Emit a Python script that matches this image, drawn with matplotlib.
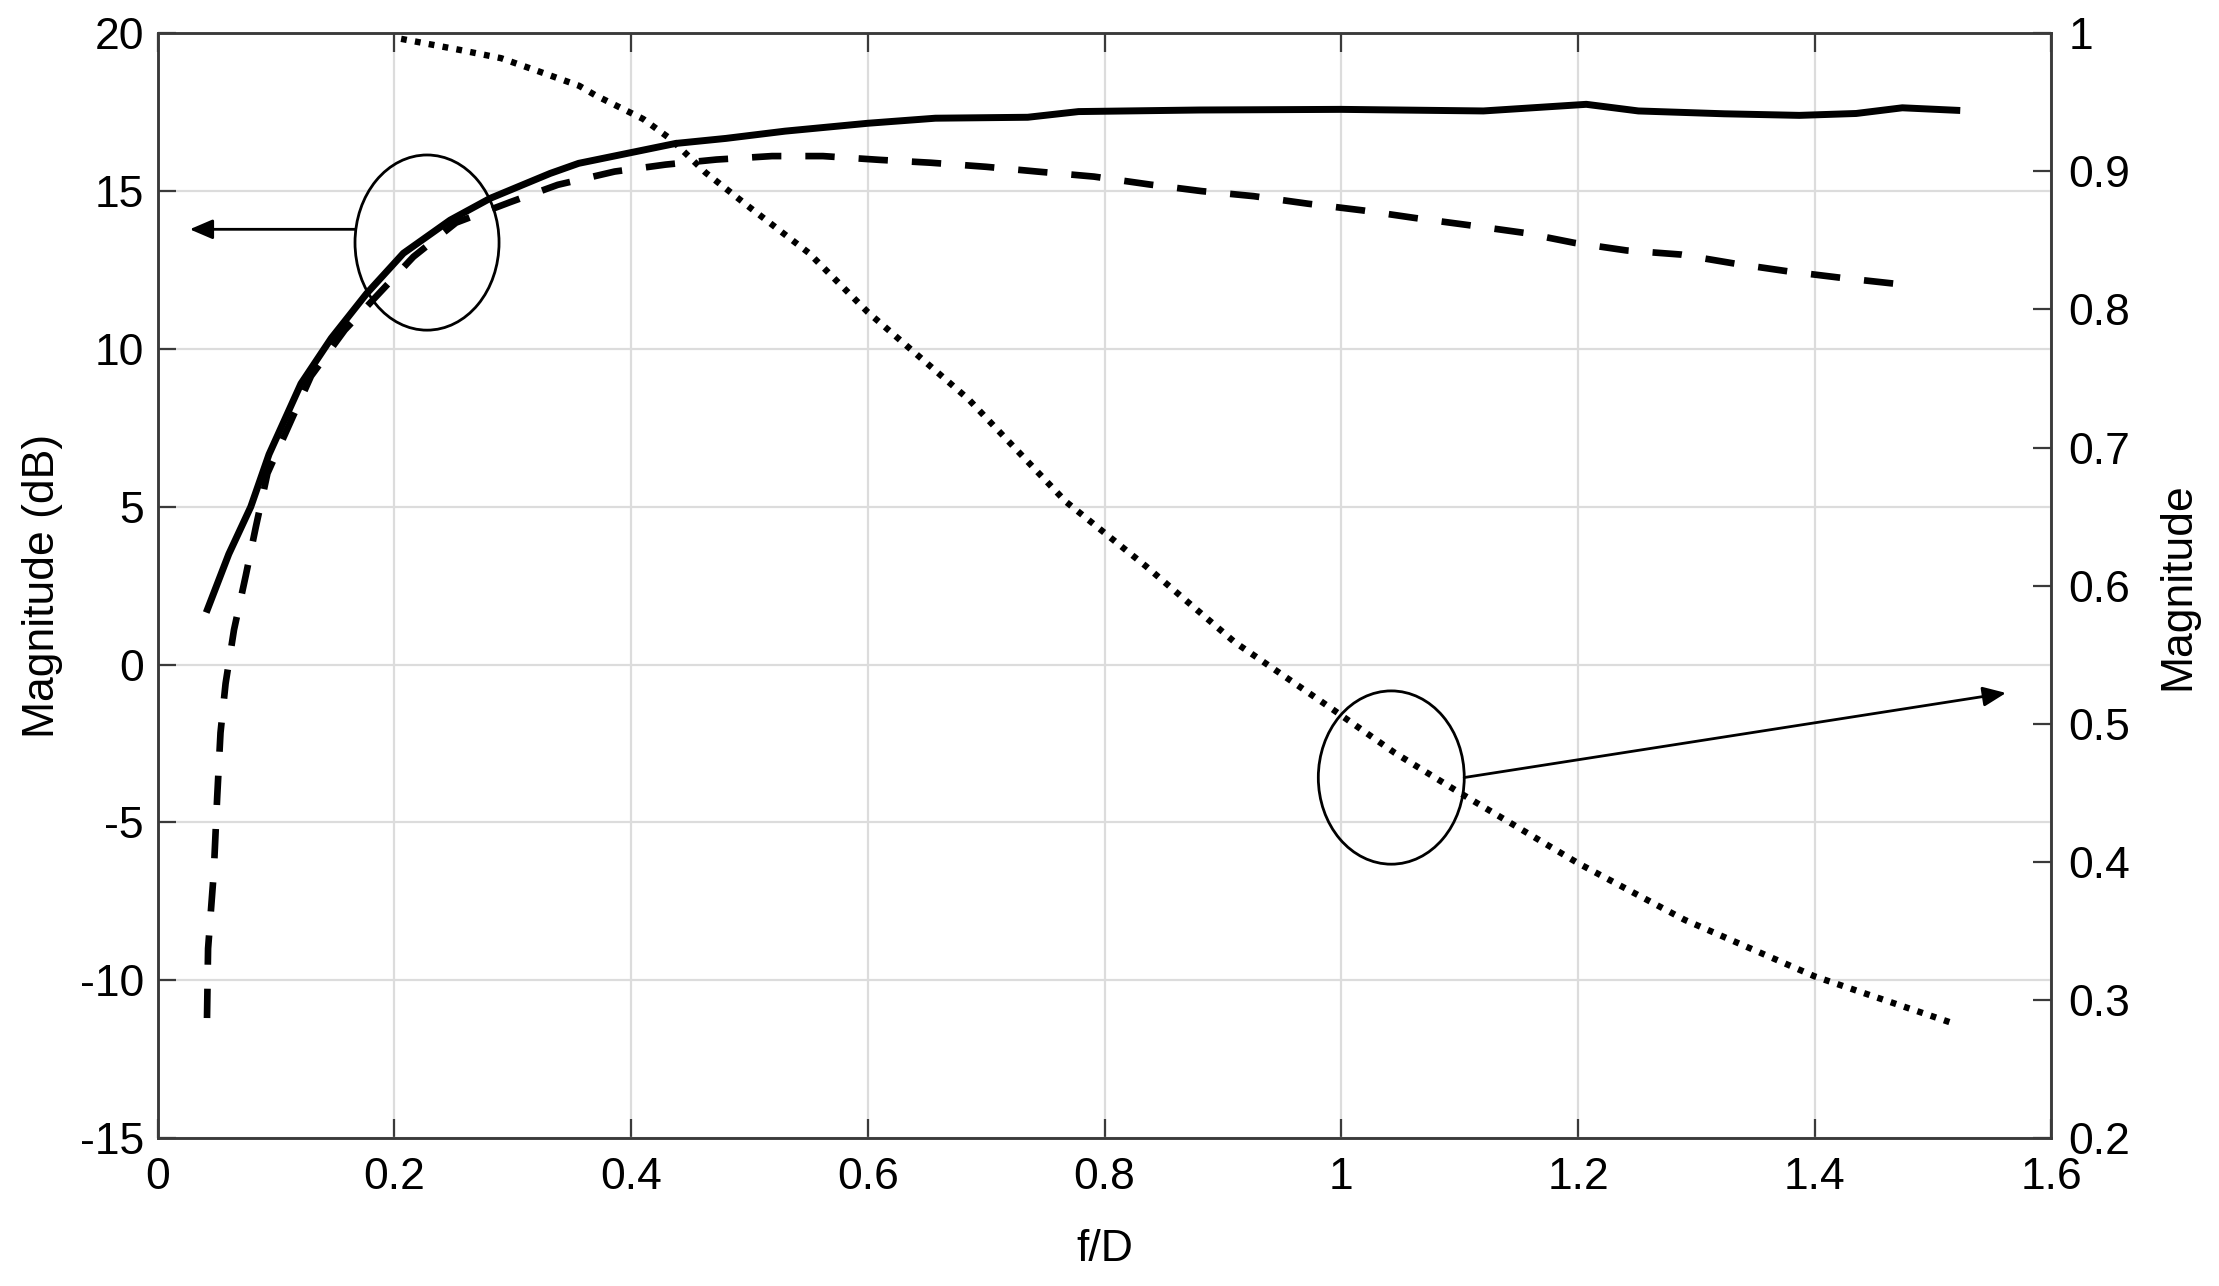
import matplotlib
matplotlib.use("Agg")
import matplotlib.pyplot as plt
from matplotlib.patches import Ellipse

plt.rcParams['font.family'] = ['Liberation Sans', 'DejaVu Sans']

# ---- data ----
solid_x = [0.042, 0.06, 0.0786, 0.094, 0.121, 0.1466, 0.1766, 0.2075, 0.247, 0.2808,
           0.3315, 0.3556, 0.4375, 0.48, 0.53, 0.6, 0.657, 0.735, 0.778, 0.88,
           1.0, 1.12, 1.207, 1.251, 1.3235, 1.387, 1.435, 1.474, 1.52]
solid_db = [1.75, 3.5, 5.0, 6.66, 8.9, 10.34, 11.76, 13.03, 14.08, 14.77,
            15.56, 15.88, 16.51, 16.67, 16.9, 17.15, 17.31, 17.34, 17.52, 17.57,
            17.59, 17.54, 17.75, 17.54, 17.45, 17.40, 17.46, 17.64, 17.56]

dashed_x = [0.0416, 0.0425, 0.0473, 0.0502, 0.053, 0.0573, 0.0644, 0.0743, 0.0828, 0.0927,
            0.1295, 0.158, 0.216, 0.252, 0.2977, 0.338, 0.386, 0.429, 0.472, 0.519,
            0.562, 0.61, 0.653, 0.70, 0.743, 0.791, 0.838, 0.882, 0.926, 0.972,
            1.018, 1.062, 1.108, 1.154, 1.197, 1.241, 1.287, 1.333, 1.377, 1.423, 1.479]
dashed_db = [-11.2, -9.0, -6.6, -4.2, -2.16, -0.6, 1.1, 2.81, 4.35, 6.06,
             9.14, 10.6, 12.92, 14.0, 14.65, 15.2, 15.62, 15.84, 16.0, 16.11,
             16.11, 15.99, 15.9, 15.77, 15.62, 15.46, 15.21, 15.0, 14.84, 14.6,
             14.39, 14.15, 13.92, 13.68, 13.36, 13.12, 12.99, 12.70, 12.46, 12.25, 12.02]

dotted_x = [0.2056, 0.255, 0.29, 0.32, 0.356, 0.37, 0.41, 0.434, 0.463, 0.50,
            0.55, 0.60, 0.685, 0.767, 0.835, 0.91, 0.99, 1.045, 1.10, 1.20,
            1.29, 1.40, 1.517]
dotted_mag = [0.996, 0.988, 0.982, 0.973, 0.962, 0.955, 0.938, 0.923, 0.899, 0.874,
              0.841, 0.798, 0.735, 0.661, 0.614, 0.559, 0.512, 0.479, 0.450, 0.399,
              0.358, 0.317, 0.283]

xticks = [0, 0.2, 0.4, 0.6, 0.8, 1.0, 1.2, 1.4, 1.6]
xticklabels = ['0', '0.2', '0.4', '0.6', '0.8', '1', '1.2', '1.4', '1.6']
yticks_left = [-15, -10, -5, 0, 5, 10, 15, 20]
yticks_right = [0.2, 0.3, 0.4, 0.5, 0.6, 0.7, 0.8, 0.9, 1.0]
yticklabels_right = ['0.2', '0.3', '0.4', '0.5', '0.6', '0.7', '0.8', '0.9', '1']

# ---- figure ----
fig = plt.figure(figsize=(22.19, 12.86), dpi=100)
ax = fig.add_axes([0.0711, 0.1151, 0.9245 - 0.0711, 0.9741 - 0.1151])
ax2 = ax.twinx()

FS = 32
spine_c = '#3a3a3a'

ax.plot(solid_x, solid_db, color='black', lw=5.0, solid_joinstyle='round', zorder=5)
ax.plot(dashed_x, dashed_db, color='black', lw=4.8, linestyle=(0, (4.4, 3.6)),
        dash_capstyle='butt', zorder=5)
ax2.plot(dotted_x, dotted_mag, color='black', lw=4.6, linestyle=(0, (0.9, 1.3)),
         dash_capstyle='butt', zorder=5)

ax.set_xlim(0, 1.6)
ax.set_ylim(-15, 20)
ax2.set_ylim(0.2, 1.0)

ax.set_xticks(xticks)
ax.set_xticklabels(xticklabels)
ax.set_yticks(yticks_left)
ax.set_yticklabels([str(v) for v in yticks_left])
ax2.set_yticks(yticks_right)
ax2.set_yticklabels(yticklabels_right)

ax.grid(True, color='#dcdcdc', lw=1.6)
ax.set_axisbelow(True)

ax.tick_params(axis='x', direction='in', length=14, width=1.6, top=True, bottom=True,
               labelsize=FS, pad=14, colors=spine_c, labelcolor='black')
ax.tick_params(axis='y', direction='in', length=13, width=1.6, left=True, right=False,
               labelsize=FS, pad=10, colors=spine_c, labelcolor='black')
ax2.tick_params(axis='y', direction='in', length=13, width=1.6, right=True, left=False,
                labelsize=FS, pad=12, colors=spine_c, labelcolor='black')

for a in (ax, ax2):
    for s in a.spines.values():
        s.set_color(spine_c)
        s.set_linewidth(1.8)

ax.set_xlabel('f/D', fontsize=FS, labelpad=22)
ax.set_ylabel('Magnitude (dB)', fontsize=FS, labelpad=12)
ax2.set_ylabel('Magnitude', fontsize=FS, labelpad=20)

# annotations: ellipses and arrows (left-axis data coordinates)
e1 = Ellipse((0.2275, 13.37), 0.1217, 5.55, fill=False, edgecolor='black', lw=2.0, zorder=6)
e2 = Ellipse((1.0422, -3.58), 0.1233, 5.49, fill=False, edgecolor='black', lw=2.0, zorder=6)
ax.add_patch(e1)
ax.add_patch(e2)

ax.annotate('', xy=(0.027, 13.79), xytext=(0.1667, 13.79),
            arrowprops=dict(arrowstyle='-|>,head_length=0.7,head_width=0.3', color='black',
                            lw=2.0, shrinkA=0, shrinkB=0, mutation_scale=20), zorder=6)
ax.annotate('', xy=(1.5616, -0.90), xytext=(1.1038, -3.58),
            arrowprops=dict(arrowstyle='-|>,head_length=0.7,head_width=0.3', color='black',
                            lw=2.0, shrinkA=0, shrinkB=0, mutation_scale=20), zorder=6)

fig.savefig('out.png', dpi=100, facecolor='white')
